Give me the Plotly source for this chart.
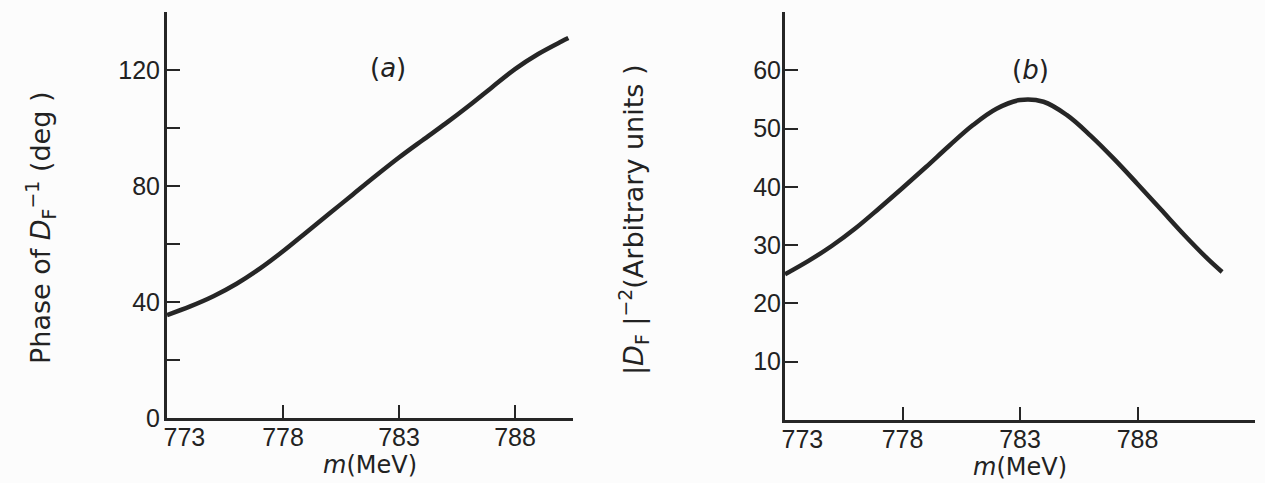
import plotly.graph_objects as go

# ---- data ----
mass_a = [773, 774, 775, 776, 777, 778, 779, 780, 781, 782, 783, 784, 785, 786, 787, 788, 789, 790, 790.3]
phase_a = [35.5, 38.5, 42, 46.3, 51.5, 57.5, 64, 70.5, 77, 83.5, 89.8, 95.7, 101.5, 107.6, 114, 120.3, 125.5, 129.8, 131]

mass_b = [773, 774, 775, 776, 777, 778, 779, 780, 781, 782, 783, 784, 785, 786, 787, 788, 789, 790, 791, 791.6]
mod_b = [25, 27.3, 29.9, 32.9, 36.3, 39.8, 43.4, 47.1, 50.6, 53.4, 54.9, 54.6, 52.3, 48.8, 44.8, 40.5, 36.1, 31.7, 27.6, 25.4]

x_ticks = [773, 778, 783, 788]
x_ticktext = ["\u00a0\u00a0\u00a0\u00a0\u00a0773", "778", "783", "788"]
ya_ticks = [0, 20, 40, 60, 80, 100, 120, 140]
ya_ticktext = ["0", "", "40", "", "80", "", "120", ""]
yb_ticks = [10, 20, 30, 40, 50, 60]
yb_ticktext = ["10", "20", "30", "40", "50", "60"]

INK = "#262626"
TXT = "#222"
FONT = "Liberation Sans"
TFONT = "DejaVu Sans"
FS = 25

fig = go.Figure()
fig.add_trace(go.Scatter(x=mass_a, y=phase_a, mode="lines", xaxis="x", yaxis="y",
                         line=dict(color=INK, width=4.5, shape="spline", smoothing=1.0), showlegend=False))
fig.add_trace(go.Scatter(x=mass_b, y=mod_b, mode="lines", xaxis="x2", yaxis="y2",
                         line=dict(color=INK, width=4.5, shape="spline", smoothing=1.0), showlegend=False))

axis_common = dict(showgrid=False, zeroline=False, showline=True, linecolor=INK, linewidth=3,
                   ticks="inside", tickcolor=INK, tickwidth=2, ticklen=13, automargin=False,
                   tickfont=dict(family=FONT, size=FS, color=TXT))

xtitle = dict(text="<i>m</i>(MeV)", font=dict(family=TFONT, size=24, color=TXT), standoff=3)

fig.update_layout(
    width=1265, height=483,
    margin=dict(l=0, r=0, t=0, b=0),
    paper_bgcolor="#fcfcfc", plot_bgcolor="#fcfcfc",
    xaxis=dict(domain=[167/1265, 573/1265], range=[773, 790.5], anchor="y",
               tickvals=x_ticks, ticktext=x_ticktext, title=xtitle, ticklabelstandoff=-5,
               **axis_common),
    yaxis=dict(domain=[65/483, 471/483], range=[0, 140], anchor="x",
               tickvals=ya_ticks, ticktext=ya_ticktext, ticklabelstandoff=-1, **axis_common),
    xaxis2=dict(domain=[785/1265, 1255/1265], range=[773, 793], anchor="y2",
                tickvals=x_ticks, ticktext=x_ticktext, title=xtitle, ticklabelstandoff=-5,
                **axis_common),
    yaxis2=dict(domain=[63/483, 471/483], range=[0, 70], anchor="x2",
                tickvals=yb_ticks, ticktext=yb_ticktext, ticklabelstandoff=-4, **axis_common),
    annotations=[
        dict(text="Phase of <i>D</i><sub>F</sub><sup>−1</sup> (deg )", textangle=-90,
             xref="paper", yref="paper", x=40/1265, y=(483-228)/483, showarrow=False,
             xanchor="center", yanchor="middle",
             font=dict(family=TFONT, size=27, color=TXT)),
        dict(text="|<i>D</i><sub>F</sub> |<sup>−2</sup>(Arbitrary units )", textangle=-90,
             xref="paper", yref="paper", x=633/1265, y=(483-220)/483, showarrow=False,
             xanchor="center", yanchor="middle",
             font=dict(family=TFONT, size=27, color=TXT)),
        dict(text="(<i>a</i>)", xref="paper", yref="paper", x=388/1265, y=(483-68)/483,
             showarrow=False, xanchor="center", yanchor="middle",
             font=dict(family=TFONT, size=26, color=TXT)),
        dict(text="(<i>b</i>)", xref="paper", yref="paper", x=1030/1265, y=(483-70)/483,
             showarrow=False, xanchor="center", yanchor="middle",
             font=dict(family=TFONT, size=26, color=TXT)),
    ],
)

fig.write_html("out.html", config={"displayModeBar": False},
               post_script="document.body.style.margin='0';document.body.style.overflow='hidden';")
